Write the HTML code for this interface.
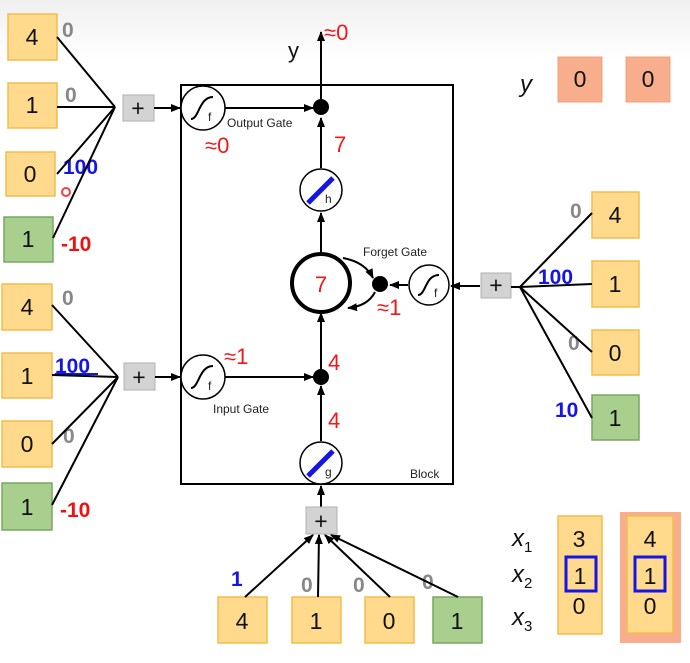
<!DOCTYPE html>
<html><head><meta charset="utf-8"><style>
body{margin:0;background:#fff}
svg{display:block}
text{font-family:"Liberation Sans","DejaVu Sans",sans-serif}
.y{fill:#ffd98c;stroke:#f3bd4c;stroke-width:1.5}
.g{fill:#a8cf8d;stroke:#78a860;stroke-width:1.5}
.o{fill:#f8ae8c;stroke:#f1a07a;stroke-width:1}
.p{fill:#d3d3d3;stroke:#b0b0b0}
.n{font-size:23px;fill:#111;text-anchor:middle}
.l{stroke:#000;stroke-width:2;fill:none}
.gr{font-size:21px;font-weight:bold;fill:#888}
.bl{font-size:21px;font-weight:bold;fill:#1515e6}
.rd{font-size:21px;font-weight:bold;fill:#f01010}
.r{font-size:22px;fill:#f01818}
.sm{font-size:12px;fill:#222}
</style></head><body>
<svg width="690" height="663" viewBox="0 0 690 663" xmlns="http://www.w3.org/2000/svg">
<defs><marker id="a" markerWidth="10" markerHeight="10" refX="9" refY="5" orient="auto" markerUnits="userSpaceOnUse"><path d="M0,1 L10,5 L0,9 z" fill="#000"/></marker>
<linearGradient id="bg" x1="0" y1="0" x2="0" y2="1"><stop offset="0" stop-color="#f0f0f0"/><stop offset="1" stop-color="#ffffff"/></linearGradient></defs>
<rect width="690" height="663" fill="#fff"/>
<rect x="0" y="0" width="690" height="60" fill="url(#bg)"/>
<!-- block -->
<rect x="181" y="85" width="272" height="399" fill="none" stroke="#000" stroke-width="2"/>
<text x="410" y="478" class="sm">Block</text>
<!-- top-left inputs -->
<rect class="y" x="8" y="14" width="49" height="46"/><text class="n" x="32" y="45">4</text>
<rect class="y" x="8" y="83" width="49" height="45"/><text class="n" x="32" y="113">1</text>
<rect class="y" x="6" y="152" width="49" height="44"/><text class="n" x="30" y="182">0</text>
<rect class="g" x="4" y="217" width="49" height="45"/><text class="n" x="28" y="247">1</text>
<text class="gr" x="62" y="37">0</text><text class="gr" x="65" y="102">0</text>
<text class="bl" x="63" y="174">100</text><text class="rd" x="61" y="251">-10</text>
<g class="l"><line x1="57" y1="37" x2="115" y2="107"/><line x1="57" y1="107" x2="115" y2="107"/><line x1="57" y1="174" x2="115" y2="107"/><line x1="53" y1="238" x2="115" y2="107"/></g>
<rect class="p" x="123" y="95" width="31" height="26"/><text class="n" x="138" y="116">+</text>
<line class="l" x1="154" y1="108" x2="180" y2="108" marker-end="url(#a)"/>
<!-- output gate -->
<circle cx="203" cy="108" r="22" fill="#fff" stroke="#000" stroke-width="1.5"/>
<path d="M191,119 C199,119 199,97 213,97" class="l" stroke-width="1.5"/><text x="208" y="121" class="sm">f</text>
<line class="l" x1="225" y1="108" x2="313" y2="108" marker-end="url(#a)"/>
<circle cx="321" cy="107" r="8" fill="#000"/>
<text x="227" y="127" class="sm">Output Gate</text>
<text class="r" x="205" y="153">≈0</text>
<line class="l" x1="321" y1="107" x2="321" y2="32" marker-end="url(#a)"/>
<text x="288" y="58" font-size="22" fill="#111">y</text>
<text class="r" x="324" y="40">≈0</text>
<text class="r" x="334" y="152">7</text>
<!-- h -->
<line class="l" x1="321" y1="168" x2="321" y2="118" marker-end="url(#a)"/>
<circle cx="321" cy="190" r="21" fill="#fff" stroke="#000" stroke-width="1.5"/>
<line x1="308" y1="203" x2="333" y2="178" stroke="#1515e6" stroke-width="5"/><text x="325" y="203" class="sm" font-size="11">h</text>
<line class="l" x1="321" y1="253" x2="321" y2="213" marker-end="url(#a)"/>
<!-- memory -->
<circle cx="321" cy="283" r="29" fill="#fff" stroke="#000" stroke-width="4"/>
<text class="r" x="321" y="292" text-anchor="middle" font-size="24">7</text>
<path d="M343,258 Q365,262 373,278" class="l" stroke-width="1.5" marker-end="url(#a)"/>
<path d="M375,292 Q368,306 348,308" class="l" stroke-width="1.5" marker-end="url(#a)"/>
<circle cx="380" cy="284" r="8" fill="#000"/>
<text x="363" y="256" class="sm">Forget Gate</text>
<text class="r" x="377" y="315">≈1</text>
<line class="l" x1="408" y1="285" x2="390" y2="285" marker-end="url(#a)"/>
<circle cx="429" cy="285" r="20" fill="#fff" stroke="#000" stroke-width="1.5"/>
<path d="M418,295 C426,295 425,275 439,275" class="l" stroke-width="1.5"/><text x="434" y="297" class="sm">f</text>
<line class="l" x1="480" y1="286" x2="451" y2="286" marker-end="url(#a)"/>
<rect class="p" x="481" y="273" width="30" height="25"/><text class="n" x="496" y="293">+</text>
<line class="l" x1="520" y1="287" x2="511" y2="287"/>
<!-- right inputs -->
<rect class="y" x="592" y="192" width="47" height="46"/><text class="n" x="615" y="223">4</text>
<rect class="y" x="592" y="261" width="47" height="46"/><text class="n" x="615" y="292">1</text>
<rect class="y" x="592" y="330" width="47" height="45"/><text class="n" x="615" y="361">0</text>
<rect class="g" x="592" y="395" width="47" height="45"/><text class="n" x="615" y="426">1</text>
<text class="gr" x="570" y="218">0</text><text class="bl" x="538" y="284">100</text>
<text class="gr" x="568" y="350">0</text><text class="bl" x="555" y="417">10</text>
<g class="l"><line x1="592" y1="213" x2="520" y2="287"/><line x1="592" y1="284" x2="520" y2="287"/><line x1="592" y1="352" x2="520" y2="287"/><line x1="592" y1="418" x2="520" y2="287"/></g>
<!-- lower-left inputs -->
<rect class="y" x="2" y="284" width="50" height="46"/><text class="n" x="27" y="315">4</text>
<rect class="y" x="2" y="353" width="50" height="45"/><text class="n" x="27" y="384">1</text>
<rect class="y" x="2" y="421" width="50" height="46"/><text class="n" x="27" y="452">0</text>
<rect class="g" x="2" y="483" width="50" height="47"/><text class="n" x="27" y="515">1</text>
<text class="gr" x="62" y="305">0</text><text class="bl" x="55" y="373">100</text>
<text class="gr" x="63" y="443">0</text><text class="rd" x="60" y="517">-10</text>
<line x1="55" y1="374" x2="98" y2="374" stroke="#1515e6" stroke-width="2"/>
<g class="l"><line x1="52" y1="305" x2="118" y2="377"/><line x1="52" y1="375" x2="118" y2="377"/><line x1="52" y1="444" x2="118" y2="377"/><line x1="52" y1="505" x2="118" y2="377"/></g>
<rect class="p" x="124" y="363" width="31" height="27"/><text class="n" x="139" y="385">+</text>
<line class="l" x1="155" y1="377" x2="180" y2="377" marker-end="url(#a)"/>
<circle cx="203" cy="377" r="22" fill="#fff" stroke="#000" stroke-width="1.5"/>
<path d="M191,388 C199,388 199,366 213,366" class="l" stroke-width="1.5"/><text x="208" y="390" class="sm">f</text>
<line class="l" x1="225" y1="377" x2="313" y2="377" marker-end="url(#a)"/>
<circle cx="321" cy="377" r="8" fill="#000"/>
<text class="r" x="224" y="364">≈1</text>
<text x="213" y="413" class="sm">Input Gate</text>
<text class="r" x="328" y="370">4</text>
<text class="r" x="328" y="428">4</text>
<line class="l" x1="321" y1="369" x2="321" y2="313" marker-end="url(#a)"/>
<line class="l" x1="321" y1="441" x2="321" y2="386" marker-end="url(#a)"/>
<circle cx="321" cy="463" r="21" fill="#fff" stroke="#000" stroke-width="1.5"/>
<line x1="308" y1="476" x2="333" y2="451" stroke="#1515e6" stroke-width="5"/><text x="325" y="476" class="sm" font-size="11">g</text>
<line class="l" x1="321" y1="507" x2="321" y2="486" marker-end="url(#a)"/>
<rect class="p" x="306" y="507" width="31" height="27"/><text class="n" x="321" y="529">+</text>
<!-- bottom inputs -->
<rect class="y" x="218" y="597" width="49" height="46"/><text class="n" x="242" y="629">4</text>
<rect class="y" x="292" y="597" width="49" height="46"/><text class="n" x="316" y="629">1</text>
<rect class="y" x="365" y="597" width="49" height="46"/><text class="n" x="389" y="629">0</text>
<rect class="g" x="433" y="597" width="49" height="46"/><text class="n" x="457" y="629">1</text>
<text class="bl" x="231" y="586">1</text><text class="gr" x="301" y="592">0</text>
<text class="gr" x="353" y="592">0</text><text class="gr" x="422" y="589">0</text>
<g class="l"><line x1="245" y1="597" x2="313" y2="535" marker-end="url(#a)"/><line x1="318" y1="597" x2="319" y2="535" marker-end="url(#a)"/><line x1="390" y1="597" x2="325" y2="535" marker-end="url(#a)"/><line x1="458" y1="597" x2="331" y2="535" marker-end="url(#a)"/></g>
<!-- top right y -->
<text x="520" y="92" font-size="24" font-style="italic" font-family="Liberation Serif" fill="#111">y</text>
<rect class="o" x="558" y="57" width="44" height="45"/><text class="n" x="580" y="87">0</text>
<rect class="o" x="626" y="57" width="44" height="45"/><text class="n" x="648" y="87">0</text>
<!-- bottom right x -->
<g font-family="Liberation Serif" font-style="italic" font-size="24" fill="#111">
<text x="512" y="546">x<tspan font-size="15" dy="6" font-style="normal">1</tspan></text>
<text x="512" y="582">x<tspan font-size="15" dy="6" font-style="normal">2</tspan></text>
<text x="512" y="625">x<tspan font-size="15" dy="6" font-style="normal">3</tspan></text></g>
<rect class="y" x="558" y="516" width="44" height="118"/>
<text class="n" x="579" y="547">3</text><text class="n" x="580" y="584">1</text><text class="n" x="579" y="614">0</text>
<rect x="566" y="557" width="30" height="34" fill="none" stroke="#1515e6" stroke-width="3"/>
<rect x="620" y="512" width="61" height="131" fill="#f8ae8c"/>
<rect class="y" x="627" y="516" width="46" height="117"/>
<text class="n" x="650" y="547">4</text><text class="n" x="650" y="584">1</text><text class="n" x="650" y="614">0</text>
<rect x="635" y="557" width="30" height="34" fill="none" stroke="#1515e6" stroke-width="3"/>
<circle cx="66" cy="192" r="4" fill="none" stroke="#f04040" stroke-width="2"/>
</svg>
</body></html>
